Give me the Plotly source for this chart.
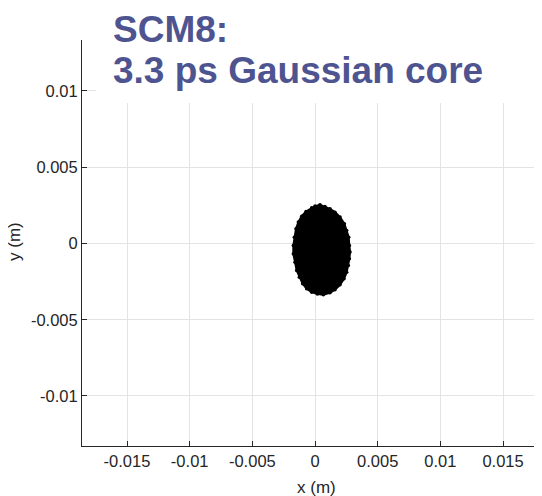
import plotly.graph_objects as go

# Outline of the particle cloud (x, y in metres)
blob_x = [-0.000266, 0.0, 0.000399, 0.000799, 0.001198, 0.001597, 0.001997, 0.002343,
          0.002529, 0.002689, 0.002742, 0.002796, 0.002742, 0.002662, 0.002529, 0.002316,
          0.001997, 0.001597, 0.001198, 0.000666, 0.000186, -0.000266, -0.000666, -0.000985,
          -0.001252, -0.001464, -0.001597, -0.001731, -0.001731, -0.001651, -0.001518,
          -0.001331, -0.001065, -0.000719, -0.000266]
blob_y = [0.002317, 0.002448, 0.002536, 0.002426, 0.002273, 0.002054, 0.001727, 0.001290,
          0.000852, 0.000415, -0.000131, -0.000568, -0.001005, -0.001443, -0.001880, -0.002317,
          -0.002710, -0.003038, -0.003235, -0.003366, -0.003322, -0.003191, -0.002973, -0.002645,
          -0.002208, -0.001770, -0.001224, -0.000677, -0.000131, 0.000415, 0.000962,
          0.001399, 0.001792, 0.002098, 0.002317]

x_ticks = [-0.015, -0.01, -0.005, 0, 0.005, 0.01, 0.015]
x_tick_labels = ["-0.015", "-0.01", "-0.005", "0", "0.005", "0.01", "0.015"]
y_ticks = [-0.01, -0.005, 0, 0.005, 0.01]
y_tick_labels = ["-0.01", "-0.005", "0", "0.005", "0.01"]

title_lines = ["SCM8:", "3.3 ps Gaussian core"]
x_label = "x (m)"
y_label = "y (m)"

FONT = "Liberation Sans, Arial, sans-serif"
AX = "#262626"
# page offset of the figure (default body margin of the browser)
OFF = 8
L, T, W, H = 82, 40, 460, 406  # plot area in page pixels


def px(xp):
    return (xp - L) / W


def py(yp):
    return 1 - (yp - T) / H


fig = go.Figure()
fig.add_trace(go.Scatter(
    x=blob_x, y=blob_y, mode="lines+markers", fill="toself",
    fillcolor="black", line=dict(color="black", width=2),
    marker=dict(color="black", size=3.5), hoverinfo="skip", showlegend=False))

axis_common = dict(showgrid=True, gridcolor="#e3e3e3", gridwidth=1, zeroline=False,
                   showline=True, linecolor=AX, linewidth=1, ticks="inside",
                   ticklen=5, tickcolor=AX, automargin=False,
                   tickfont=dict(family=FONT, size=16.5, color=AX))

fig.update_xaxes(range=[-0.01859, 0.01811], tickvals=x_ticks, ticktext=x_tick_labels,
                 **axis_common)
fig.update_yaxes(range=[-0.01328, 0.01334], tickvals=y_ticks, ticktext=y_tick_labels,
                 **axis_common)

fig.add_shape(type="rect", xref="paper", yref="paper",
              x0=px(96), x1=px(535), y0=py(103), y1=py(0),
              fillcolor="white", line=dict(width=0), layer="above")

TITLE_COLOR = "#4E5490"
fig.add_annotation(text=f"<b>{title_lines[0]}</b>", xref="paper", yref="paper",
                   x=px(111), y=py(29), xanchor="left", yanchor="middle",
                   showarrow=False, font=dict(family=FONT, size=37, color=TITLE_COLOR))
fig.add_annotation(text=f"<b>{title_lines[1]}</b>", xref="paper", yref="paper",
                   x=px(111), y=py(71), xanchor="left", yanchor="middle",
                   showarrow=False, font=dict(family=FONT, size=37, color=TITLE_COLOR))
fig.add_annotation(text=x_label, xref="paper", yref="paper", x=px(316), y=py(487),
                   xanchor="center", yanchor="middle", showarrow=False,
                   font=dict(family=FONT, size=17, color=AX))
fig.add_annotation(text=y_label, xref="paper", yref="paper", x=px(15), y=py(242),
                   xanchor="center", yanchor="middle", showarrow=False, textangle=-90,
                   font=dict(family=FONT, size=17, color=AX))

fig.update_layout(width=542 - OFF, height=496 - OFF,
                  margin=dict(l=L - OFF, r=0, t=T - OFF, b=496 - T - H),
                  plot_bgcolor="white", paper_bgcolor="white", showlegend=False)

fig.write_html("out.html")
